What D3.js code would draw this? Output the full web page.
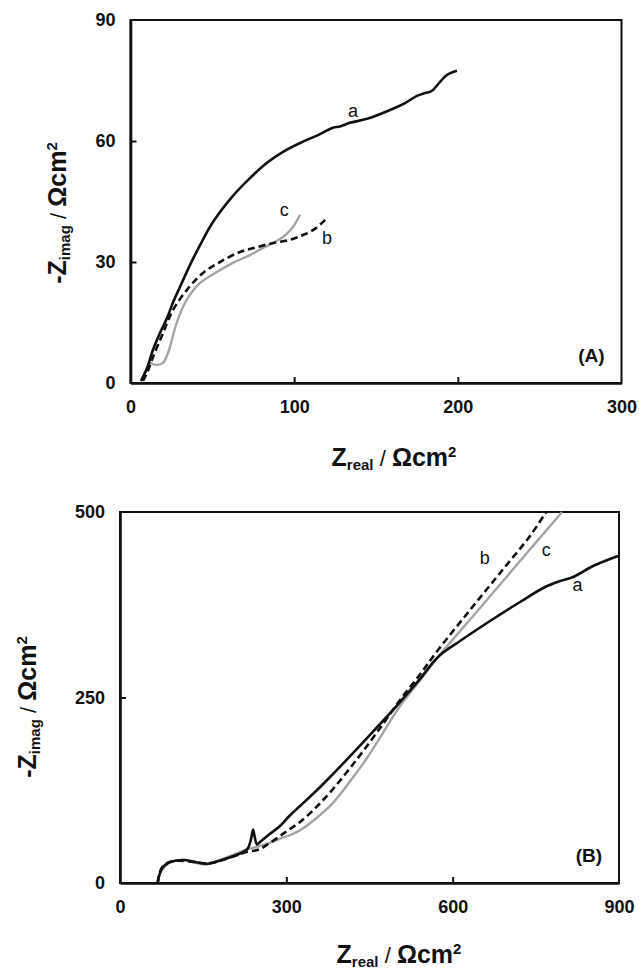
<!DOCTYPE html>
<html>
<head>
<meta charset="utf-8">
<script src="https://cdn.jsdelivr.net/npm/d3@7"></script>
<style>
  html, body { margin: 0; padding: 0; background: #fff; }
  svg { display: block; }
  text { font-family: "Liberation Sans", Arial, Helvetica, sans-serif; fill: #111; }
</style>
</head>
<body>
<svg id="chart" width="639" height="969"></svg>
<script>
// ---- Panel (A): Nyquist plots, small range ----
const topXTicks = [0, 100, 200, 300];
const topYTicks = [0, 30, 60, 90];
const topA = [[6.4,0.5],[10.1,3.7],[13.7,8.2],[18,12.4],[22.3,16.1],[26,20],[30.2,23.8],[36.4,29.3],[42.5,34.2],[50.4,39.9],[62.6,46.4],[73,50.8],[83.4,54.6],[93.2,57.3],[103.6,59.5],[115.8,61.7],[123.7,63.3],[128,63.6],[134,64.5],[144.5,65.5],[158.6,67.7],[167.7,69.4],[175,71.2],[180,71.9],[184,72.4],[189,74.6],[193.4,76.4],[199.5,77.4]];
const topB = [[7.6,0.5],[10.1,2.5],[13.7,6.4],[19.9,12.4],[26,18.1],[34.5,23.1],[44.3,27.3],[54.7,30],[66.9,32.5],[77.3,33.7],[87.1,34.7],[97.5,35.5],[105.4,36.7],[111.5,37.9],[117,39.7],[120,40.9]];
const topC = [[6.8,0.7],[9.5,3],[11.9,5],[14,4.6],[16,4.5],[19.9,5],[22,6.5],[24.1,8.9],[28.2,14.9],[34.3,20.6],[42.5,24.8],[52.7,27.5],[62.6,29.8],[73,31.7],[81,33.5],[87.1,34.7],[93.2,36.2],[99.3,38.7],[103.6,41.7]];
const topLabels = [["a",136,66],["b",120,34.5],["c",94,41.5]];

// ---- Panel (B): Nyquist plots, wide range ----
const botXTicks = [0, 300, 600, 900];
const botYTicks = [0, 250, 500];
const botA = [[68,0],[71,11],[77,21],[87,27],[100,30],[118,31],[138,28],[158,26],[180,30],[200,35],[220,41],[230,46],[236,58],[240,72],[243,62],[247,52],[252.5,55.3],[270,66],[288.6,76.8],[305,90],[324.7,103.8],[355,125],[384.2,146.9],[415,171],[445.5,195.4],[475,219],[505.1,243.9],[540,274],[573.6,304.6],[613.3,326.1],[667.4,353.1],[721.5,378.7],[766.6,398.9],[793.7,407],[817.1,412.4],[853.2,427.2],[898.3,440.7]];
const botB = [[68,0],[71,13],[77,22],[88,28],[105,30],[125,29],[145,27],[165,27],[185,31],[205,36],[225,41],[252.5,45.8],[270,54],[288.6,63.3],[305,72],[324.7,82.2],[355,103],[384.2,126.7],[415,155],[445.5,184.6],[475,215],[505.1,246.6],[540,280],[573.6,314],[631.3,367.9],[685.4,417.8],[739.5,467.7],[768.4,500]];
const botC = [[69,0],[72,13],[81,22],[93,29],[114,31],[138,27],[156,25],[180,31],[204,38],[228,45],[252.5,49.9],[270,54],[290,60],[308,65],[324.7,71],[355,88],[384.2,108],[415,137],[445.5,168.5],[475,203],[505.1,238.5],[540,272],[573.6,304.6],[649.4,370.6],[721.5,434],[797.3,500]];
const botLabels = [["b",658,430],["c",769,441],["a",825,393]];

const svg = d3.select("#chart");

const seriesStyle = {
  a: { stroke: "#111", dash: null, width: 2.6 },
  b: { stroke: "#111", dash: "7,4", width: 2.6 },
  c: { stroke: "#a4a4a4", dash: null, width: 2.4 }
};

function panel(cfg) {
  const x = d3.scaleLinear().domain(cfg.xDomain).range([cfg.left, cfg.right]);
  const y = d3.scaleLinear().domain(cfg.yDomain).range([cfg.bottom, cfg.top]);
  const g = svg.append("g");

  // frame
  g.append("rect")
    .attr("x", cfg.left).attr("y", cfg.top)
    .attr("width", cfg.right - cfg.left).attr("height", cfg.bottom - cfg.top)
    .attr("fill", "none").attr("stroke", "#111").attr("stroke-width", 2);

  const xAxis = d3.axisBottom(x).tickValues(cfg.xTicks).tickSize(-6).tickPadding(17).tickSizeOuter(0);
  const yAxis = d3.axisLeft(y).tickValues(cfg.yTicks).tickSize(-6).tickPadding(15).tickSizeOuter(0);

  const gx = g.append("g").attr("transform", `translate(0,${cfg.bottom})`).call(xAxis);
  const gy = g.append("g").attr("transform", `translate(${cfg.left},0)`).call(yAxis);
  [gx, gy].forEach(a => {
    a.select(".domain").attr("stroke", "#111").attr("stroke-width", 2.6);
    a.selectAll(".tick line").attr("stroke", "#111").attr("stroke-width", 2);
    a.selectAll(".tick text")
      .attr("font-family", "'Liberation Sans', Arial, sans-serif")
      .attr("font-size", 18).attr("font-weight", "bold").attr("fill", "#111");
  });
  // no tick marks at the corners
  gx.selectAll(".tick").filter(d => d === cfg.xDomain[0] || d === cfg.xDomain[1]).select("line").remove();
  gy.selectAll(".tick").filter(d => d === cfg.yDomain[0] || d === cfg.yDomain[1]).select("line").remove();

  const line = d3.line().x(d => x(d[0])).y(d => y(d[1])).curve(d3.curveCatmullRom.alpha(0.5));
  const order = [["c", cfg.c], ["b", cfg.b], ["a", cfg.a]];
  order.forEach(([k, data]) => {
    const s = seriesStyle[k];
    g.append("path").datum(data)
      .attr("d", line)
      .attr("fill", "none")
      .attr("stroke", s.stroke)
      .attr("stroke-width", s.width)
      .attr("stroke-linejoin", "round")
      .attr("stroke-dasharray", s.dash);
  });

  // curve labels
  g.selectAll("text.lbl").data(cfg.labels).join("text")
    .attr("class", "lbl")
    .attr("x", d => x(d[1])).attr("y", d => y(d[2]))
    .attr("text-anchor", "middle")
    .attr("font-size", 18)
    .text(d => d[0]);

  // panel tag
  g.append("text")
    .attr("x", cfg.right - 30).attr("y", cfg.bottom - 21)
    .attr("text-anchor", "middle")
    .attr("font-size", 19).attr("font-weight", "bold")
    .text(cfg.tag);

  // x-axis title
  const xt = g.append("text")
    .attr("x", cfg.xTitle[0]).attr("y", cfg.xTitle[1])
    .attr("text-anchor", "middle").attr("font-weight", "bold");
  xt.append("tspan").attr("font-size", 25).text("Z");
  xt.append("tspan").attr("font-size", 15).attr("dy", 4).text("real");
  xt.append("tspan").attr("font-size", 22).attr("font-weight", "normal").attr("dy", -4).text(" / ");
  xt.append("tspan").attr("font-size", 25).text("Ωcm");
  xt.append("tspan").attr("font-size", 15).attr("dy", -9).text("2");

  // y-axis title
  const yt = g.append("text")
    .attr("transform", `translate(${cfg.yTitle[0]},${cfg.yTitle[1]}) rotate(-90)`)
    .attr("text-anchor", "middle").attr("font-weight", "bold");
  yt.append("tspan").attr("font-size", 25).text("-Z");
  yt.append("tspan").attr("font-size", 15).attr("dy", 4).text("imag");
  yt.append("tspan").attr("font-size", 22).attr("font-weight", "normal").attr("dy", -4).text(" / ");
  yt.append("tspan").attr("font-size", 25).text("Ωcm");
  yt.append("tspan").attr("font-size", 15).attr("dy", -9).text("2");
}

panel({
  left: 130.5, right: 621.5, top: 20, bottom: 383,
  xDomain: [0, 300], yDomain: [0, 90],
  xTicks: topXTicks, yTicks: topYTicks,
  a: topA, b: topB, c: topC, labels: topLabels, tag: "(A)",
  xTitle: [394, 466], yTitle: [66, 213]
});

panel({
  left: 120, right: 619, top: 512, bottom: 883,
  xDomain: [0, 900], yDomain: [0, 500],
  xTicks: botXTicks, yTicks: botYTicks,
  a: botA, b: botB, c: botC, labels: botLabels, tag: "(B)",
  xTitle: [399, 963], yTitle: [36, 707]
});
</script>
</body>
</html>
